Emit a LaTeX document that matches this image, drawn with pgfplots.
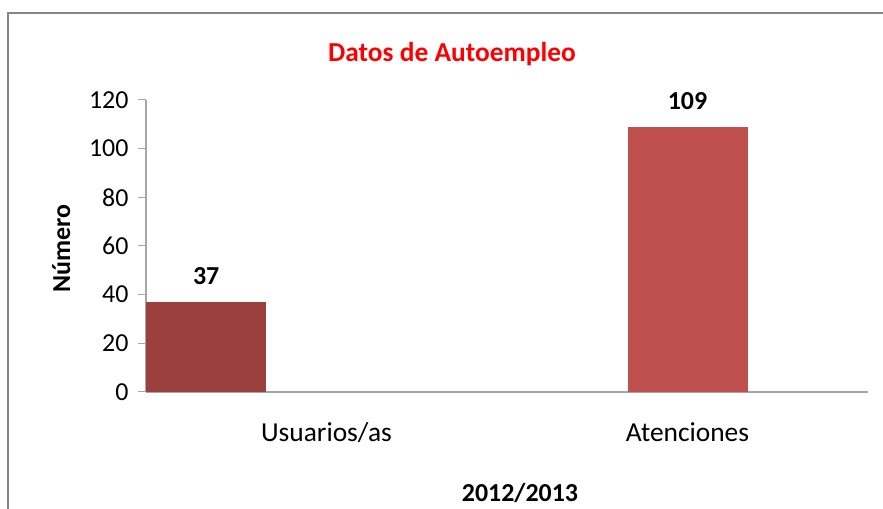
\documentclass[border=0pt]{standalone}
\usepackage{pgfplots}
\pgfplotsset{compat=1.18}
\usepackage{fontspec}
\setmainfont{Carlito}
\definecolor{barA}{HTML}{9C403D}
\definecolor{barB}{HTML}{C0504D}
\definecolor{axgray}{HTML}{A6A6A6}
\definecolor{framegray}{HTML}{868686}
\begin{document}
\begin{tikzpicture}[x=1bp,y=1bp]
\useasboundingbox (0,0) rectangle (883,509);
\fill[white] (0,0) rectangle (883,509);
\draw[framegray, line width=1.2bp] (8,-2) -- (8,496) -- (885,496);
\begin{axis}[
  at={(146bp,117bp)}, anchor=south west,
  scale only axis, width=722bp, height=292bp,
  xmin=0, xmax=6, ymin=0, ymax=120,
  axis x line*=bottom, axis y line*=left,
  axis line style={axgray, line width=1.2bp, -},
  ytick={0,20,...,120},
  ytick style={axgray, line width=1bp},
  tick align=outside, major tick length=8bp,
  xtick=\empty,
  /pgf/number format/assume math mode=true,
  yticklabel style={font=\fontsize{26}{26}\selectfont, xshift=-6bp},
  ybar, bar width=120bp,
  nodes near coords,
  nodes near coords style={font=\bfseries\fontsize{26}{26}\selectfont, anchor=base, yshift=17bp, black},
  clip=false,
]
\addplot[fill=barA, draw=none, bar shift=0pt] coordinates {(0.5,37)};
\addplot[fill=barB, draw=none, bar shift=0pt] coordinates {(4.5,109)};
\node[anchor=base, font=\fontsize{27.5}{27.5}\selectfont, yshift=-50bp] at (axis cs:1.5,0) {Usuarios/as};
\node[anchor=base, font=\fontsize{27.5}{27.5}\selectfont, yshift=-50bp] at (axis cs:4.5,0) {Atenciones};
\end{axis}
\node[anchor=base, font=\bfseries\fontsize{27.5}{27.5}\selectfont, text=red] at (452,447) {Datos de Autoempleo};
\node[anchor=base, rotate=90, font=\bfseries\fontsize{26}{26}\selectfont] at (70,260) {Número};
\node[anchor=base, font=\bfseries\fontsize{26}{26}\selectfont] at (520,7) {2012/2013};
\end{tikzpicture}
\end{document}
